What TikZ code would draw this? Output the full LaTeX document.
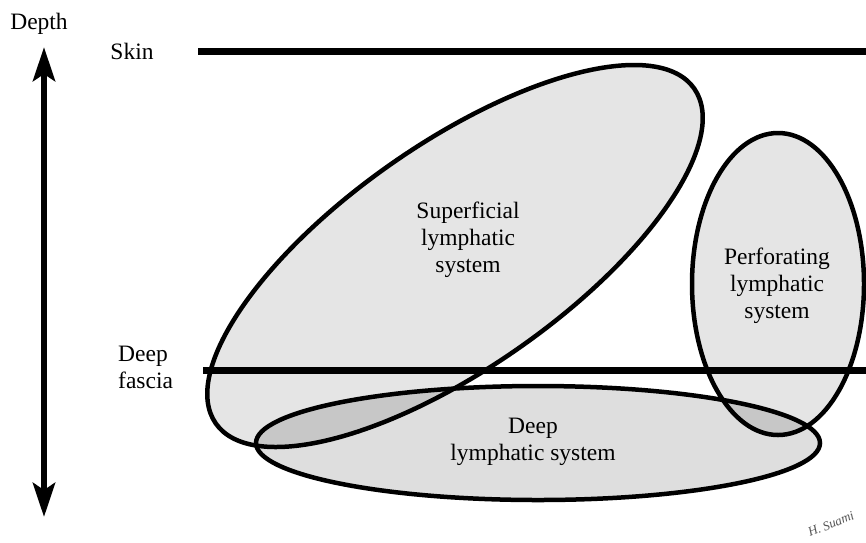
\documentclass[tikz,border=0pt]{standalone}
\usepackage{fontspec}
\setmainfont{Liberation Serif}
\usepackage{tikz}
\usetikzlibrary{arrows.meta,positioning}
\definecolor{Sig_Gray}{HTML}{555555}
\newcommand{\lblfont}{\fontsize{23.5}{27}\selectfont}

\begin{document}
\begin{tikzpicture}[x=1pt, y=-1pt,
    systext/.style={font=\lblfont, align=center, inner sep=0pt},
    layerline/.style={line width=7pt},
    lymph/.style={draw=black, line width=4.5pt, fill=black, fill opacity=0.1},
    deeplymph/.style={lymph, fill opacity=0.13},
    deptharrow/.style={line width=6pt, {Stealth[length=34pt,width=22pt,inset=7pt]}-{Stealth[length=34pt,width=22pt,inset=7pt]}}]
    \useasboundingbox (0,0) rectangle (866,542);

    % Lymphatic systems
    \draw[lymph, rotate around={35:(455,256)}] (455,256) ellipse [x radius=292, y radius=112];
    \draw[lymph] (778,284) ellipse [x radius=86, y radius=151];
    \draw[deeplymph] (538,443) ellipse [x radius=282, y radius=57];

    \node[systext] (superficial) at (468,240) {Superficial\\lymphatic\\system};
    \node[systext] (perforating) at (777,286) {Perforating\\lymphatic\\system};
    \node[systext] (deep) at (533,442) {Deep\\lymphatic system};

    % Skin
    \coordinate (skinL) at (198,51);
    \coordinate (skinR) at (866,51);
    \draw[layerline] (skinL) -- (skinR);
    \node[systext, anchor=base] (skin) at (132,59) {Skin};

    % Deep fascia
    \coordinate (fasciaL) at (203,370);
    \coordinate (fasciaR) at (866,370);
    \draw[layerline] (fasciaL) -- (fasciaR);
    \node[systext, align=left, anchor=west] (fascia) at (118,367) {Deep\\fascia};

    % Depth axis
    \coordinate (top) at (44,47);
    \coordinate (bottom) at (44,517);
    \draw[deptharrow] (bottom) -- (top);
    \node[systext, anchor=base] (depth) at (39,29) {Depth};

    % Signature
    \node[font=\itshape\fontsize{13}{14}\selectfont, Sig_Gray, rotate=22, inner sep=0pt] (sign) at (831,524) {H. Suami};
\end{tikzpicture}
\end{document}
